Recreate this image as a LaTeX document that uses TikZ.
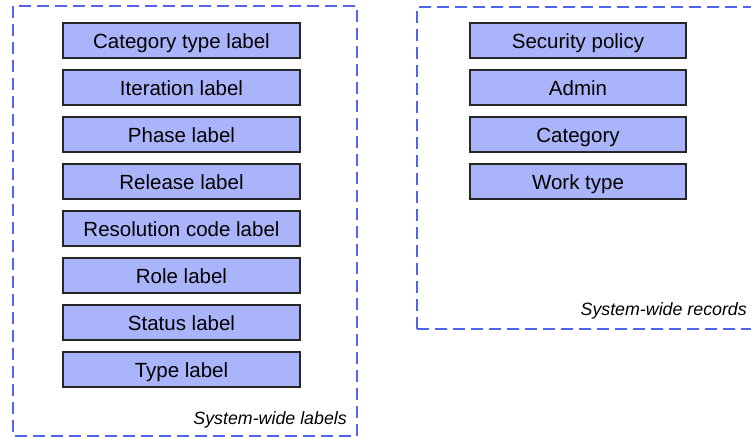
\documentclass[tikz,border=0pt]{standalone}
\usepackage{fontspec}
\setmainfont{Liberation Sans}
\definecolor{boxfill}{RGB}{170,180,250}
\definecolor{dashblue}{RGB}{80,100,240}
\begin{document}
\begin{tikzpicture}[x=1bp,y=-1bp,
  itembox/.style={draw=black!85,line width=1.2bp,fill=boxfill,inner sep=0pt,
    minimum height=35bp,text height=15.4bp,text depth=0pt,
    font=\fontsize{20.5bp}{24bp}\selectfont},
  leftbox/.style={itembox,minimum width=237bp},
  rightbox/.style={itembox,minimum width=216bp},
  container/.style={draw=dashblue,line width=1.3bp,dash pattern=on 12bp off 6bp},
  caption/.style={anchor=base east,inner sep=0pt,font=\fontsize{17.8bp}{20bp}\selectfont\itshape}]
\useasboundingbox (0,0) rectangle (751,437);
\clip (0,0) rectangle (751,437);
\fill[white] (0,0) rectangle (751,437);
% containers
\draw[container] (13,6) rectangle (357,436);
\draw[container] (417,329) -- (417,7) -- (770,7);
\draw[container] (417,329) -- (770,329);
% left column
\node[leftbox] (l1) at (181.5,40.5) {Category type label};
\node[leftbox] (l2) at (181.5,87.5) {Iteration label};
\node[leftbox] (l3) at (181.5,134.5) {Phase label};
\node[leftbox] (l4) at (181.5,181.5) {Release label};
\node[leftbox] (l5) at (181.5,228.5) {Resolution code label};
\node[leftbox] (l6) at (181.5,275.5) {Role label};
\node[leftbox] (l7) at (181.5,322.5) {Status label};
\node[leftbox] (l8) at (181.5,369.5) {Type label};
\node[caption] (cl) at (347,424) {System-wide labels};
% right column
\node[rightbox] (r1) at (578,40.5) {Security policy};
\node[rightbox] (r2) at (578,87.5) {Admin};
\node[rightbox] (r3) at (578,134.5) {Category};
\node[rightbox] (r4) at (578,181.5) {Work type};
\node[caption] (cr) at (747,316) {System-wide records};
\end{tikzpicture}
\end{document}
